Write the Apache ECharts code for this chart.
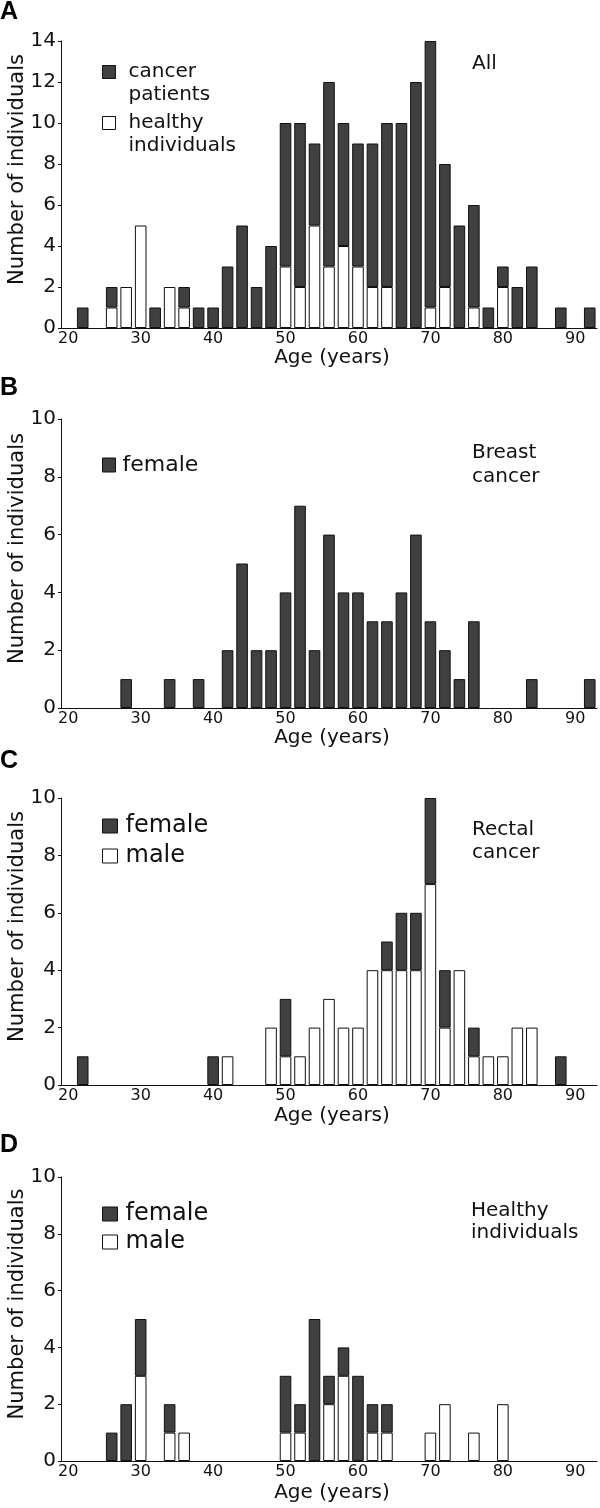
<!DOCTYPE html>
<html>
<head>
<meta charset="utf-8">
<title>Age distribution</title>
<script src="https://cdn.jsdelivr.net/npm/echarts@6/dist/echarts.min.js"></script>
<style>
  html, body { margin: 0; padding: 0; background: #fff; }
  #chart { width: 600px; height: 1508px; }
</style>
</head>
<body>
<div id="chart"></div>
<script>
// age bins (2 years wide), x axis categories
var ages = ['20','22','24','26','28','30','32','34','36','38',
            '40','42','44','46','48','50','52','54','56','58',
            '60','62','64','66','68','70','72','74','76','78',
            '80','82','84','86','88','90','92'];

// A - all
var allHealthy = [0,0,0,1,2,5,0,2,1,0, 0,0,0,0,0,3,2,5,3,4, 3,2,2,0,0,1,2,0,1,0, 2,0,0,0,0,0,0];
var allCancer  = [0,1,0,1,0,0,1,0,1,1, 1,3,5,2,4,7,8,4,9,6, 6,7,8,10,12,13,6,5,5,1, 1,2,3,0,1,0,1];
// B - breast cancer
var breastFemale = [0,0,0,0,1,0,0,1,0,1, 0,2,5,2,2,4,7,2,6,4, 4,3,3,4,6,3,2,1,3,0, 0,0,1,0,0,0,1];
// C - rectal cancer
var rectalMale   = [0,0,0,0,0,0,0,0,0,0, 0,1,0,0,2,1,1,2,3,2, 2,4,4,4,4,7,2,4,1,1, 1,2,2,0,0,0,0];
var rectalFemale = [0,1,0,0,0,0,0,0,0,0, 1,0,0,0,0,2,0,0,0,0, 0,0,1,2,2,3,2,0,1,0, 0,0,0,0,1,0,0];
// D - healthy individuals
var healthyMale   = [0,0,0,0,0,3,0,1,1,0, 0,0,0,0,0,1,1,0,2,3, 0,1,1,0,0,1,2,0,1,0, 2,0,0,0,0,0,0];
var healthyFemale = [0,0,0,1,2,2,0,1,0,0, 0,0,0,0,0,2,1,5,1,1, 3,1,1,0,0,0,0,0,0,0, 0,0,0,0,0,0,0];

var yMax = [14, 10, 10, 10];

var font = 'DejaVu Sans';
var ink = '#111';
var dark = '#404040';
var edge = '#111';

var grids = [
  { left: 61, width: 536, top: 41,   height: 287 },
  { left: 61, width: 536, top: 419,  height: 289 },
  { left: 61, width: 536, top: 798,  height: 287 },
  { left: 61, width: 536, top: 1177, height: 284 }
];
var xNameGap = [18, 15, 21, 22];

function toBars(arr) {
  return arr.map(function (v) { return v > 0 ? v : '-'; });
}

function bar(name, data, i, fill) {
  return {
    type: 'bar', name: name, xAxisIndex: i, yAxisIndex: i, stack: 'p' + i,
    data: toBars(data), barCategoryGap: '20%', silent: true,
    itemStyle: { color: fill, borderColor: edge, borderWidth: 1 }
  };
}

var xAxes = grids.map(function (g, i) {
  return {
    type: 'category', gridIndex: i, data: ages, boundaryGap: true,
    name: 'Age (years)', nameLocation: 'middle', nameGap: xNameGap[i],
    nameTextStyle: { fontFamily: font, fontSize: 20, color: ink, padding: [0, 0, 0, 6] },
    axisLine: { lineStyle: { color: ink, width: 1 } },
    axisTick: { interval: 0, length: 3, lineStyle: { color: ink } },
    axisLabel: { interval: 4, margin: 3, fontFamily: font, fontSize: 16, color: ink },
    splitLine: { show: false }
  };
});

var yAxes = grids.map(function (g, i) {
  return {
    type: 'value', gridIndex: i, min: 0, max: yMax[i], interval: 2,
    name: 'Number of individuals', nameLocation: 'middle', nameGap: 33,
    nameMoveOverlap: false,
    nameTextStyle: { fontFamily: font, fontSize: 21, color: ink, padding: [0, 0, 0, 30] },
    axisLine: { show: true, lineStyle: { color: ink, width: 1 } },
    axisTick: { show: true, length: 3, lineStyle: { color: ink } },
    axisLabel: { margin: 5, fontFamily: font, fontSize: 20, color: ink },
    splitLine: { show: false }
  };
});

var legendBase = {
  orient: 'vertical', padding: 0, selectedMode: false, icon: 'rect',
  itemStyle: { borderColor: edge, borderWidth: 1 }
};

function legend(extra) {
  return Object.assign({}, legendBase, extra);
}

var option = {
  animation: false,
  backgroundColor: '#fff',
  grid: grids.map(function (g) { return Object.assign({ outerBoundsMode: 'none' }, g); }),
  xAxis: xAxes,
  yAxis: yAxes,
  title: [
    { text: 'A', left: 0, top: 0, padding: 0, textStyle: { fontFamily: 'Liberation Sans', fontWeight: 'bold', fontSize: 25, color: '#000' } },
    { text: 'B', left: 0, top: 376, padding: 0, textStyle: { fontFamily: 'Liberation Sans', fontWeight: 'bold', fontSize: 25, color: '#000' } },
    { text: 'C', left: 0, top: 749, padding: 0, textStyle: { fontFamily: 'Liberation Sans', fontWeight: 'bold', fontSize: 25, color: '#000' } },
    { text: 'D', left: 0, top: 1133, padding: 0, textStyle: { fontFamily: 'Liberation Sans', fontWeight: 'bold', fontSize: 25, color: '#000' } },
    { text: 'All', left: 472, top: 52, padding: 0, textStyle: { fontFamily: font, fontWeight: 'normal', fontSize: 20, lineHeight: 23, color: ink } },
    { text: 'Breast\ncancer', left: 472, top: 441, padding: 0, textStyle: { fontFamily: font, fontWeight: 'normal', fontSize: 20, lineHeight: 24, color: ink } },
    { text: 'Rectal\ncancer', left: 472, top: 818, padding: 0, textStyle: { fontFamily: font, fontWeight: 'normal', fontSize: 20, lineHeight: 23, color: ink } },
    { text: 'Healthy\nindividuals', left: 471, top: 1200, padding: 0, textStyle: { fontFamily: font, fontWeight: 'normal', fontSize: 20, lineHeight: 22, color: ink } }
  ],
  legend: [
    legend({
      left: 102, top: 43, itemWidth: 13, itemHeight: 13, itemGap: -11,
      data: ['cancer patients', 'healthy individuals'],
      formatter: function (name) {
        var p = name.split(' ');
        return '{e| }\n{a|' + p[0] + '}\n{a|' + p[1] + '}';
      },
      textStyle: {
        rich: {
          a: { fontFamily: font, fontSize: 20, lineHeight: 23, color: ink, padding: [0, 0, 0, 8] },
          e: { fontSize: 12, lineHeight: 23 }
        }
      }
    }),
    legend({
      left: 102, top: 452, itemWidth: 13, itemHeight: 14,
      data: ['female'],
      textStyle: { fontFamily: font, fontSize: 22, lineHeight: 26, color: ink, padding: [0, 0, 0, 2] }
    }),
    legend({
      left: 102, top: 812, itemWidth: 15, itemHeight: 14, itemGap: 2,
      data: ['female', 'male'],
      textStyle: { fontFamily: font, fontSize: 24, lineHeight: 28, color: ink, padding: [0, 0, 0, 3] }
    }),
    legend({
      left: 102, top: 1200, itemWidth: 15, itemHeight: 14, itemGap: 0,
      data: ['female', 'male'],
      textStyle: { fontFamily: font, fontSize: 24, lineHeight: 28, color: ink, padding: [0, 0, 0, 3] }
    })
  ],
  series: [
    bar('healthy individuals', allHealthy, 0, '#fff'),
    bar('cancer patients', allCancer, 0, dark),
    bar('female', breastFemale, 1, dark),
    bar('male', rectalMale, 2, '#fff'),
    bar('female', rectalFemale, 2, dark),
    bar('male', healthyMale, 3, '#fff'),
    bar('female', healthyFemale, 3, dark)
  ]
};

var chart = echarts.init(document.getElementById('chart'));
chart.setOption(option);
window.addEventListener('resize', function () { chart.resize(); });
</script>
</body>
</html>
